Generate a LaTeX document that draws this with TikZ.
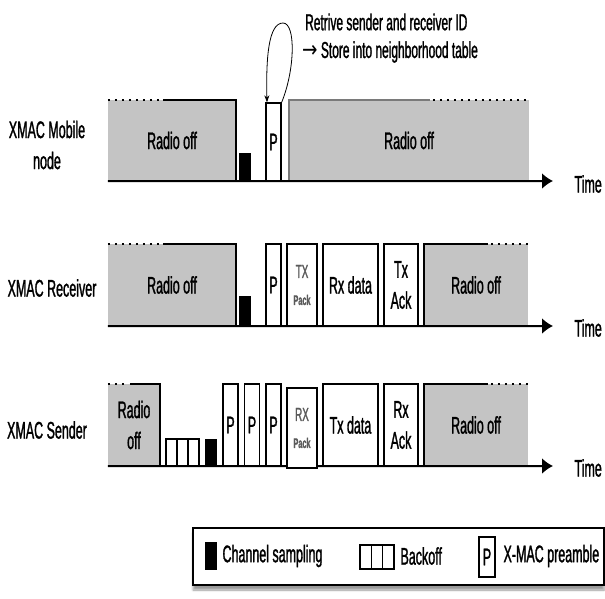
\documentclass[tikz,border=0pt]{standalone}
\usepackage{fontspec}
\setmainfont[FakeStretch=0.52, FakeBold=1.2]{Liberation Sans}
\newfontfamily\arrowfont[FakeStretch=0.8]{DejaVu Sans}
\usetikzlibrary{arrows.meta, shadows.blur}
\definecolor{offfill}{HTML}{C4C4C4}
\definecolor{offline}{HTML}{7A7A7A}
\definecolor{packtext}{HTML}{5A5A5A}
\newcommand{\mainsize}{\fontsize{24}{31}\selectfont}
\newcommand{\notesize}{\fontsize{23}{30}\selectfont}
\newcommand{\txsize}{\fontsize{19}{24}\selectfont}
\newcommand{\packsize}{\fontsize{14}{14}\selectfont\bfseries}
\tikzset{
  offbox/.style={rectangle, fill=offfill, inner sep=0pt, font=\mainsize, align=center},
  slot/.style={rectangle, draw=black, fill=white, line width=1.3pt, inner sep=0pt, font=\mainsize, align=center},
  sampbox/.style={rectangle, fill=black, inner sep=0pt},
  packbox/.style={slot, text=packtext, font=\txsize},
  rowlabel/.style={font=\mainsize, align=center},
  timelabel/.style={font=\mainsize, anchor=west},
  notelabel/.style={font=\notesize, anchor=west, inner sep=0pt},
  offedge/.style={line width=1.6pt},
  offdots/.style={line width=2pt, dash pattern=on 2pt off 5pt},
  timeline/.style={-{Latex[length=11pt, width=16pt]}, line width=2pt},
  note/.style={-{Stealth[length=7pt, width=5pt]}, line width=0.8pt},
  legendbox/.style={rectangle, draw=black, fill=white, line width=1.5pt,
    blur shadow={shadow xshift=0pt, shadow yshift=-5pt, shadow blur steps=6}}
}

\begin{document}
\begin{tikzpicture}[x=1pt, y=-1pt]
\useasboundingbox (0,0) rectangle (605,599);

% row labels
\node[rowlabel] (lmobile) at (47,145) {XMAC Mobile\\node};
\node[rowlabel] (lreceiver) at (52,288) {XMAC Receiver};
\node[rowlabel] (lsender) at (47,430) {XMAC Sender};

% mobile node
\node[offbox, minimum width=128, minimum height=81] (off1) at (172,140.5) {Radio off};
\node[offbox, minimum width=240, minimum height=81] (off2) at (409,140.5) {Radio off};
\draw[offdots] (off1.north west) -- ++(52,0);
\draw[offedge] (off1.north west) ++(55,0) -- (off1.north east) -- (off1.south east);
\draw[offedge, draw=offline, line width=2.5pt] (off2.south west) -- (off2.north west) -- ++(141,0);
\draw[offdots] (off2.north west) ++(144,0) -- (off2.north east);
\coordinate (end1) at (553,181);
\draw[timeline] (off1.south west) -- (end1);
\node[sampbox, minimum width=12, minimum height=28] (samp1) at (245,167) {};
\node[slot, minimum width=15, minimum height=78] (pre1) at (273.5,142) {P};
\node[timelabel] (time1) at (571,184) {Time};

% receiver
\node[offbox, minimum width=128, minimum height=82] (off3) at (172,285) {Radio off};
\node[offbox, minimum width=104, minimum height=82] (off4) at (476,285) {Radio off};
\draw[offdots] (off3.north west) -- ++(52,0);
\draw[offedge] (off3.north west) ++(55,0) -- (off3.north east) -- (off3.south east);
\draw[offedge] (off4.south west) -- (off4.north west) -- ++(64,0);
\draw[offdots] (off4.north west) ++(67,0) -- (off4.north east);
\coordinate (end2) at (553,326);
\draw[timeline] (off3.south west) -- (end2);
\node[sampbox, minimum width=12, minimum height=30] (samp2) at (245,311) {};
\node[slot, minimum width=15, minimum height=82] (pre2) at (273.5,285) {P};
\node[packbox, minimum width=30, minimum height=82] (pack1) at (302,285) {TX\\[3pt]{\packsize Pack}};
\node[slot, minimum width=55, minimum height=82] (rxdata) at (350.5,285) {Rx data};
\node[slot, minimum width=34, minimum height=82] (txack) at (401,285) {Tx\\Ack};
\node[timelabel] (time2) at (571,328) {Time};

% sender
\node[offbox, minimum width=52, minimum height=82] (off5) at (134,425) {Radio\\off};
\node[offbox, minimum width=104, minimum height=82] (off6) at (476,425) {Radio off};
\draw[offdots] (off5.north west) -- ++(19,0);
\draw[offedge] (off5.north west) ++(22,0) -- (off5.north east) -- (off5.south east);
\draw[offedge] (off6.south west) -- (off6.north west) -- ++(64,0);
\draw[offdots] (off6.north west) ++(67,0) -- (off6.north east);
\coordinate (end3) at (553,466);
\draw[timeline] (off5.south west) -- (end3);
\foreach \i/\x in {1/171.5, 2/182.5, 3/193.5}
  \node[slot, minimum width=11, minimum height=27] (bo\i) at (\x,452.5) {};
\node[sampbox, minimum width=12, minimum height=27] (samp3) at (211,452.5) {};
\node[slot, minimum width=15, minimum height=82] (pre3) at (230.5,425) {P};
\node[slot, minimum width=15, minimum height=82] (pre4) at (252,425) {P};
\node[slot, minimum width=15, minimum height=82] (pre5) at (273.5,425) {P};
\node[packbox, minimum width=30, minimum height=80] (pack2) at (302,428) {RX\\[3pt]{\packsize Pack}};
\node[slot, minimum width=55, minimum height=82] (txdata) at (350.5,425) {Tx data};
\node[slot, minimum width=34, minimum height=82] (rxack) at (401,425) {Rx\\Ack};
\node[timelabel] (time3) at (571,468) {Time};

% neighbour table note
\node[notelabel] (retrive) at (305,22) {Retrive sender and receiver ID};
\node[notelabel] (store) at (302,52) {{\arrowfont →} Store into neighborhood table};
\draw[note] (pre1.north east) .. controls (295,70) and (296,23) .. (283,23)
  .. controls (268,23) and (266,60) .. ([xshift=-6.5pt]pre1.north);

% legend
\node[legendbox, minimum width=411, minimum height=57] (legend) at (398.5,556.5) {};
\node[sampbox, minimum width=12, minimum height=28] (lsamp) at (211,556) {};
\node[timelabel] (lsamptext) at (219,556) {Channel sampling};
\foreach \i/\x in {1/365.7, 2/377, 3/388.3}
  \node[slot, minimum width=11.3, minimum height=24] (lbo\i) at (\x,557) {};
\node[timelabel] (lbotext) at (397,556) {Backoff};
\node[slot, minimum width=16, minimum height=40] (lpre) at (487,557) {P};
\node[timelabel] (lpretext) at (500,556) {X-MAC preamble};

\end{tikzpicture}
\end{document}
